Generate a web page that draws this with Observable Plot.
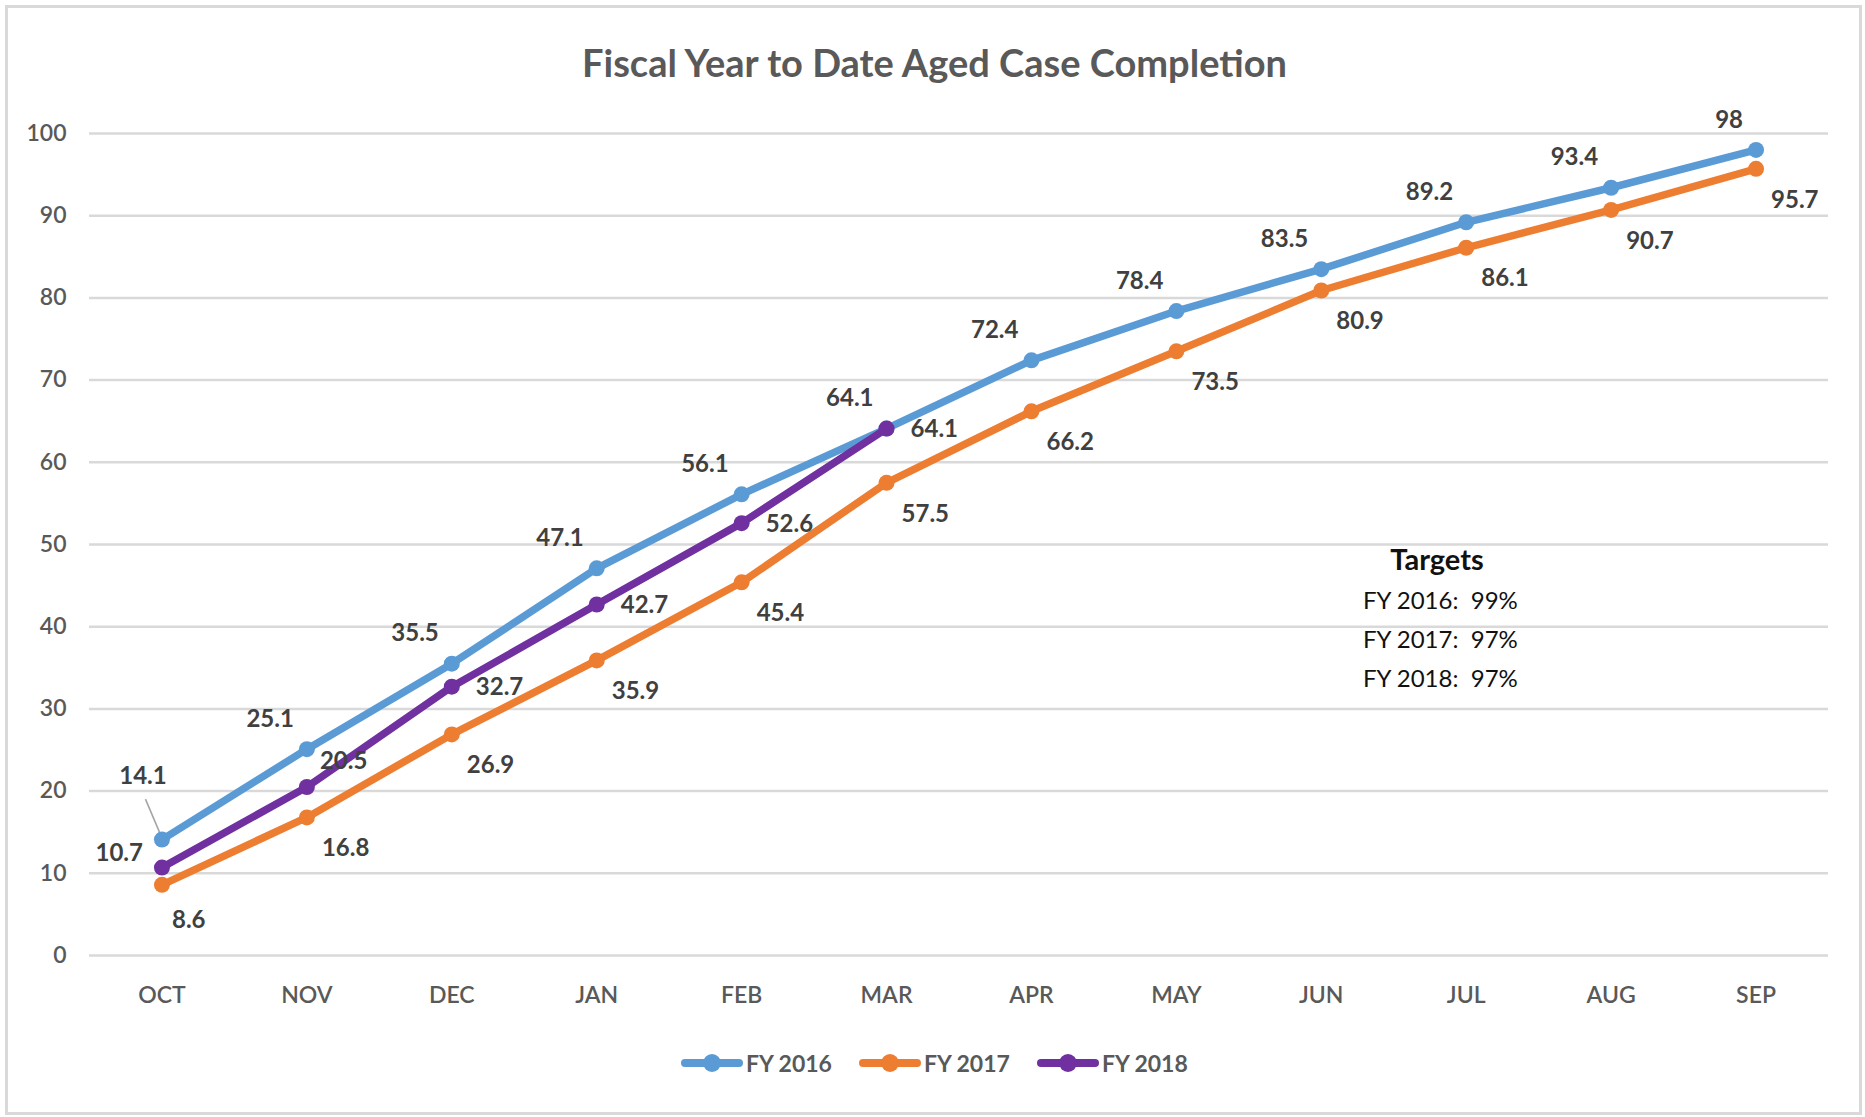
<!DOCTYPE html>
<html>
<head>
<meta charset="utf-8">
<script src="https://cdn.jsdelivr.net/npm/d3@7"></script>
<script src="https://cdn.jsdelivr.net/npm/@observablehq/plot@0.6"></script>
<style>
  html, body { margin: 0; padding: 0; background: #fff; }
  #page { position: relative; width: 1865px; height: 1117px; overflow: hidden; font-family: Lato, "Open Sans", sans-serif; }
  #frame { position: absolute; left: 5px; top: 5px; width: 1851px; height: 1104px; border: 3px solid #d9d9d9; box-sizing: content-box; }
  #title { position: absolute; left: 2px; width: 1865px; top: 39px; text-align: center; font-weight: 700; font-size: 38px; color: #595959; line-height: 46px; }
  #chart { position: absolute; left: 0; top: 0; }
  #targets { position: absolute; left: 1363px; top: 538px; color: #111; font-size: 24px; line-height: 39px; }
  #targets .head { font-weight: 700; font-size: 29px; text-align: center; width: 148px; line-height: 42px; }
  #legend { position: absolute; top: 1046px; left: 681px; display: flex; align-items: center; height: 34px; }
  #legend .item { display: flex; align-items: center; margin-right: 27px; }
  #legend .lab { font-size: 23px; font-weight: 700; color: #595959; margin-left: 3px; }
</style>
</head>
<body>
<div id="page">
  <div id="frame"></div>
  <div id="title"></div>
  <div id="chart"></div>
  <div id="targets"></div>
  <div id="legend"></div>
</div>
<script>
// ---- data ----
const months = ["OCT", "NOV", "DEC", "JAN", "FEB", "MAR", "APR", "MAY", "JUN", "JUL", "AUG", "SEP"];
const fy2016 = [14.1, 25.1, 35.5, 47.1, 56.1, 64.1, 72.4, 78.4, 83.5, 89.2, 93.4, 98];
const fy2017 = [8.6, 16.8, 26.9, 35.9, 45.4, 57.5, 66.2, 73.5, 80.9, 86.1, 90.7, 95.7];
const fy2018 = [10.7, 20.5, 32.7, 42.7, 52.6, 64.1];
const seriesNames = ["FY 2016", "FY 2017", "FY 2018"];
const seriesColors = ["#5B9BD5", "#ED7D31", "#7030A0"];
const yTicks = [0, 10, 20, 30, 40, 50, 60, 70, 80, 90, 100];
const titleText = "Fiscal Year to Date Aged Case Completion";
const targetsTitle = "Targets";
const targetLines = ["FY 2016:\u00a0 99%", "FY 2017:\u00a0 97%", "FY 2018:\u00a0 97%"];

// ---- label placement (style config) ----
const labelDefault = {
  "FY 2016": {anchor: "end", dx: -13, dy: -30},
  "FY 2017": {anchor: "start", dx: 15, dy: 31},
  "FY 2018": {anchor: "start", dx: 24, dy: 1}
};
const labelExceptions = [
  {series: "FY 2016", month: "OCT", anchor: "middle", dx: -19, dy: -63},
  {series: "FY 2017", month: "OCT", anchor: "start", dx: 10, dy: 36},
  {series: "FY 2018", month: "OCT", anchor: "end", dx: -19, dy: -14},
  {series: "FY 2018", month: "NOV", anchor: "start", dx: 13, dy: -26}
];

const allSeries = [fy2016, fy2017, fy2018];
const rows = allSeries.flatMap((vals, si) =>
  vals.map((v, i) => ({month: months[i], value: v, series: seriesNames[si]})));

function placement(d) {
  const ex = labelExceptions.find(e => e.series === d.series && e.month === d.month);
  return ex || labelDefault[d.series];
}
const groups = d3.groups(rows, d => JSON.stringify(placement(d)));

const marks = [
  Plot.gridY(yTicks, {stroke: "#d9d9d9", strokeOpacity: 1, strokeWidth: 2.5}),
  Plot.axisY(yTicks, {tickSize: 0, tickPadding: 23, fontSize: 23, fill: "#595959", fontWeight: 600, label: null}),
  Plot.axisX({tickSize: 0, tickPadding: 31, fontSize: 23, fill: "#595959", fontWeight: 600, label: null})
];
seriesNames.forEach((s, si) => {
  const d = rows.filter(r => r.series === s);
  marks.push(Plot.line(d, {x: "month", y: "value", stroke: seriesColors[si], strokeWidth: 7.5, strokeLinejoin: "round"}));
  marks.push(Plot.dot(d, {x: "month", y: "value", fill: seriesColors[si], r: 8, stroke: null}));
});
// leader line for the FY 2016 OCT label
const leaderTarget = rows.find(r => r.series === "FY 2016" && r.month === "OCT");
marks.push((index, scales) => {
  const px = scales.x(leaderTarget.month), py = scales.y(leaderTarget.value);
  return d3.create("svg:line")
    .attr("x1", px - 2).attr("y1", py - 7)
    .attr("x2", px - 16).attr("y2", py - 40)
    .attr("stroke", "#a6a6a6").attr("stroke-width", 1.6)
    .node();
});
groups.forEach(([key, d]) => {
  const p = JSON.parse(key);
  marks.push(Plot.text(d, {
    x: "month", y: "value", text: r => String(r.value),
    textAnchor: p.anchor, dx: p.dx, dy: p.dy,
    fontSize: 24, fontWeight: 700, fill: "#404040"
  }));
});

const chart = Plot.plot({
  width: 1865,
  height: 1030,
  marginLeft: 89,
  marginRight: 37,
  marginTop: 133,
  marginBottom: 75,
  style: {fontFamily: "Lato, 'Open Sans', sans-serif", background: "transparent", overflow: "visible"},
  x: {type: "point", domain: months, padding: 0.5, round: false},
  y: {domain: [0, 100]},
  marks
});
document.getElementById("chart").appendChild(chart);

document.getElementById("title").textContent = titleText;

const tg = document.getElementById("targets");
const head = document.createElement("div");
head.className = "head"; head.textContent = targetsTitle; tg.appendChild(head);
targetLines.forEach(t => { const el = document.createElement("div"); el.textContent = t; tg.appendChild(el); });

const lg = document.getElementById("legend");
seriesNames.forEach((s, si) => {
  const item = document.createElement("div"); item.className = "item";
  const sw = d3.create("svg").attr("width", 62).attr("height", 24);
  sw.append("line").attr("x1", 4).attr("x2", 58).attr("y1", 12).attr("y2", 12)
    .attr("stroke", seriesColors[si]).attr("stroke-width", 8).attr("stroke-linecap", "round");
  sw.append("circle").attr("cx", 31).attr("cy", 12).attr("r", 9).attr("fill", seriesColors[si]);
  item.appendChild(sw.node());
  const lab = document.createElement("span"); lab.className = "lab"; lab.textContent = s;
  item.appendChild(lab);
  lg.appendChild(item);
});
</script>
</body>
</html>
